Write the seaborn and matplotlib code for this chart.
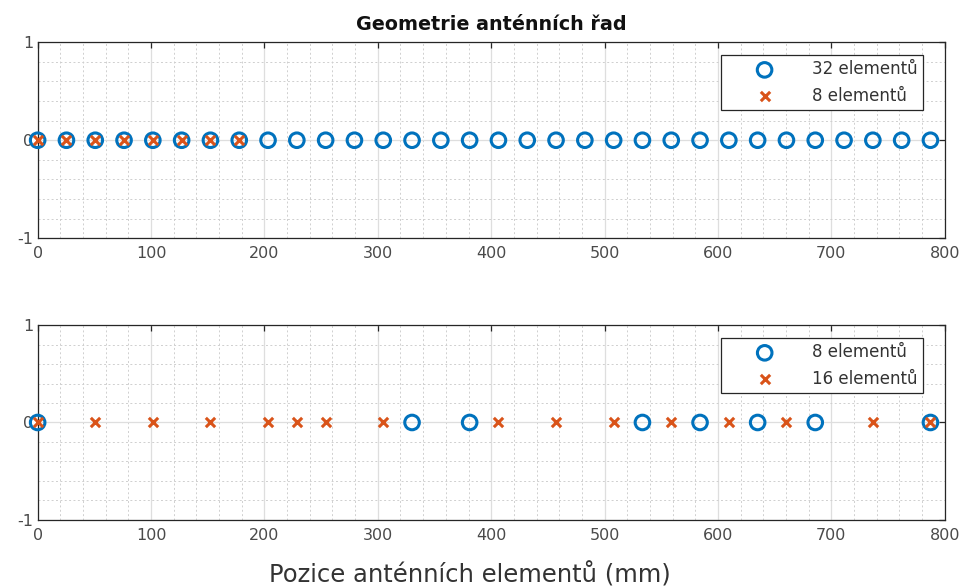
import matplotlib
matplotlib.use("Agg")
import matplotlib.pyplot as plt
import seaborn as sns
import pandas as pd
from matplotlib.ticker import MultipleLocator

sns.set_theme(style="white")
plt.rcParams['font.family'] = ['DejaVu Sans']
plt.rcParams['axes.unicode_minus'] = False

# ---- data ----
pos_32 = [0, 25.4, 50.8, 76.2, 101.6, 127, 152.4, 177.8, 203.2, 228.6, 254, 279.4,
          304.8, 330.2, 355.6, 381, 406.4, 431.8, 457.2, 482.6, 508, 533.4, 558.8,
          584.2, 609.6, 635, 660.4, 685.8, 711.2, 736.6, 762, 787.4]
pos_8_top = [0, 25.4, 50.8, 76.2, 101.6, 127, 152.4, 177.8]
pos_8_bot = [0, 330.2, 381, 533.4, 584.2, 635, 685.8, 787.4]
pos_16 = [0, 50.8, 101.6, 152.4, 203.2, 228.6, 254, 304.8, 406.4, 457.2, 508,
          558.8, 609.6, 660.4, 736.6, 787.4]
labels_top = ["32 elementů", "8 elementů"]
labels_bot = ["8 elementů", "16 elementů"]
title = "Geometrie anténních řad"
xlabel = "Pozice anténních elementů (mm)"

blue = "#0072BD"
orange = "#D95319"

fig = plt.figure(figsize=(9.65, 5.88), dpi=100)
ax1 = fig.add_axes([0.039, 0.595, 0.940, 0.333])
ax2 = fig.add_axes([0.039, 0.116, 0.940, 0.331])


def panel(ax, circ, cross, labs, leg_y):
    sns.scatterplot(x=circ, y=[0] * len(circ), ax=ax, marker="o", s=110,
                    fc="none", ec=blue, linewidth=2.2, label=labs[0], zorder=3,
                    clip_on=False)
    sns.scatterplot(x=cross, y=[0] * len(cross), ax=ax, marker="x", s=45,
                    color=orange, linewidth=2.2, label=labs[1], zorder=4,
                    clip_on=False)
    ax.set_xlim(0, 800)
    ax.set_ylim(-1, 1)
    ax.xaxis.set_major_locator(MultipleLocator(100))
    ax.xaxis.set_minor_locator(MultipleLocator(20))
    ax.yaxis.set_major_locator(MultipleLocator(1))
    ax.yaxis.set_minor_locator(MultipleLocator(0.2))
    ax.grid(True, which="major", color="#dedede", linewidth=0.9, linestyle="-")
    ax.grid(True, which="minor", color="#cfcfcf", linewidth=0.7, linestyle=(0, (2, 2.5)))
    ax.set_axisbelow(True)
    ax.tick_params(which="both", direction="in", top=True, right=True,
                   labelsize=11.5, colors="#262626")
    ax.tick_params(axis="x", which="major", pad=6)
    ax.tick_params(axis="y", which="major", pad=3)
    ax.tick_params(which="major", length=4, width=0.9)
    ax.tick_params(which="minor", length=0)
    for t in ax.get_xticklabels() + ax.get_yticklabels():
        t.set_color("#4a4a4a")
    for s in ax.spines.values():
        s.set_color("#262626")
        s.set_linewidth(0.9)
    leg = ax.legend(loc="upper right", bbox_to_anchor=(0.9757, leg_y),
                    fontsize=12, frameon=True, fancybox=False,
                    edgecolor="#262626", framealpha=1, borderpad=0.3,
                    handlelength=4.6, handletextpad=0.55, labelspacing=0.5,
                    borderaxespad=0)
    leg.get_frame().set_linewidth(0.9)
    for t in leg.get_texts():
        t.set_color("#333333")


panel(ax1, pos_32, pos_8_top, labels_top, 0.934)
panel(ax2, pos_8_bot, pos_16, labels_bot, 0.933)
ax1.set_title(title, fontsize=13.8, fontweight="bold", pad=9, color="#111111")
ax2.set_xlabel(xlabel, fontsize=17.5, color="#333333", labelpad=12)
ax2.xaxis.set_label_coords(0.477, -0.215)

fig.savefig("out.png", dpi=100)
